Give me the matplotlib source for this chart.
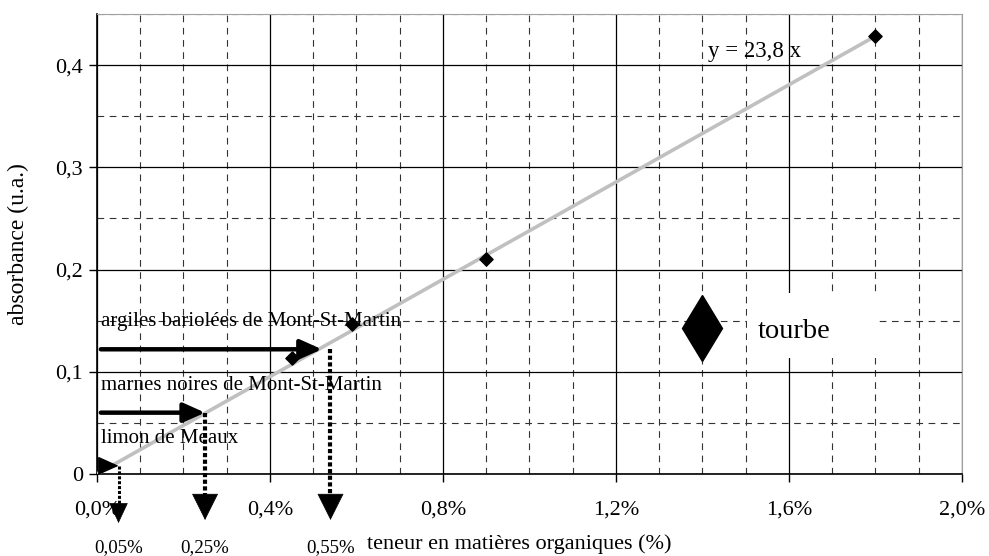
#!/usr/bin/env python

import numpy as np
import matplotlib
matplotlib.use('Agg')
import matplotlib.pyplot as plt
from matplotlib.ticker import MultipleLocator, FuncFormatter
from matplotlib.lines import Line2D
from matplotlib.patches import Rectangle

plt.rcParams['font.family'] = ['Liberation Serif', 'DejaVu Serif']

# teneur en matieres organiques (fraction) / absorbance, tourbe
tourbe_x = [0.0045, 0.0059, 0.009, 0.018]
tourbe_y = [0.113, 0.147, 0.21, 0.428]
pente = 23.8

noms = ['limon de Meaux', 'marnes noires de Mont-St-Martin', 'argiles bariolées de Mont-St-Martin']
abs_lue = [0.008, 0.06, 0.122]
fleche_x = [0.0005, 0.0025, 0.0052]
teneur = [0.0005, 0.0025, 0.0054]
teneur_txt = ['0,05%', '0,25%', '0,55%']


def virgule(v, pos):
    if v == 0:
        return '0'
    return ('%.1f' % v).replace('.', ',')


def pourcent(v, pos):
    return ('%.1f%%' % (v * 100)).replace('.', ',')


fig = plt.figure(figsize=(9.89, 5.56), dpi=100)
ax = fig.add_axes([0.098, 0.1475, 0.8747, 0.8273])
ax.set_xlim(0, 0.02)
ax.set_ylim(0, 0.45)

ax.xaxis.set_major_locator(MultipleLocator(0.004))
ax.xaxis.set_minor_locator(MultipleLocator(0.001))
ax.yaxis.set_major_locator(MultipleLocator(0.1))
ax.yaxis.set_minor_locator(MultipleLocator(0.05))
ax.xaxis.set_major_formatter(FuncFormatter(pourcent))
ax.yaxis.set_major_formatter(FuncFormatter(virgule))

ax.grid(which='major', color='black', lw=0.9, ls='-')
ax.grid(which='minor', color='#333333', lw=0.8, ls=(0, (6, 5)))
ax.set_axisbelow(True)
ax.tick_params(which='major', direction='out', length=6, width=1, labelsize=16, pad=4)
ax.tick_params(which='minor', length=0)
ax.tick_params(axis='x', pad=13)
for s in ['top', 'right']:
    ax.spines[s].set_color('#a0a0a0')
for s in ['left', 'bottom']:
    ax.spines[s].set_color('black')
    ax.spines[s].set_linewidth(1.2)

# droite de regression
xr = np.array([0, max(tourbe_x)])
ax.plot(xr, pente * xr, color='#c0c0c0', lw=2.6, zorder=3)
ax.scatter(tourbe_x, tourbe_y, marker='D', s=45, color='black', zorder=4)
ax.text(0.01413, 0.413, 'y = 23,8 x', fontsize=16.5, va='center', ha='left')

# fleches
for i in range(3):
    y = abs_lue[i]
    xt = teneur[i]
    if i == 0:
        lwh = 1
        lwv = 2.2
        hs = 'head_length=0.75,head_width=0.35'
        y0, y1 = -0.035, -0.048
    else:
        lwh = 3.2
        lwv = 3.0
        hs = 'head_length=1.0,head_width=0.5'
        y0, y1 = -0.0275, -0.045
    ax.annotate('', xy=(fleche_x[i], y), xytext=(0.00009, y),
                arrowprops=dict(arrowstyle='-|>,head_length=1.0,head_width=0.45',
                                lw=lwh, color='black', shrinkA=0, shrinkB=0,
                                mutation_scale=13), zorder=5)
    ax.plot([xt, xt], [y, y0], color='black', lw=lwv, ls=(0, (1, 0.6)),
            clip_on=False, zorder=5)
    ax.annotate('', xy=(xt, y1), xytext=(xt, y0), annotation_clip=False,
                arrowprops=dict(arrowstyle='-|>,' + hs, lw=0.5,
                                color='black', shrinkA=0, shrinkB=0,
                                mutation_scale=18), zorder=5)
    ax.text(xt, -0.072, teneur_txt[i], ha='center', va='center', fontsize=13.6,
            clip_on=False)
    ax.text(0.0001, y + 0.027, noms[i], ha='left', va='center', fontsize=15,
            zorder=6)

ax.set_xlabel('teneur en matières organiques (%)', fontsize=16)
ax.xaxis.set_label_coords(0.488, -0.131)
ax.set_ylabel('absorbance (u.a.)', fontsize=17)
ax.yaxis.set_label_coords(-0.079, 0.5)

# legende
ax.add_patch(Rectangle((0.01503, 0.113), 0.003, 0.064, facecolor='white',
                       edgecolor='none', zorder=2))
h = Line2D([], [], ls='none', marker='d', markersize=34, color='black')
leg = ax.legend([h], ['tourbe'], loc='center left', bbox_to_anchor=(0.645, 0.31),
                frameon=False, fontsize=20.5, handletextpad=1.2, handlelength=1.5)

fig.savefig('out.png', dpi=100)
